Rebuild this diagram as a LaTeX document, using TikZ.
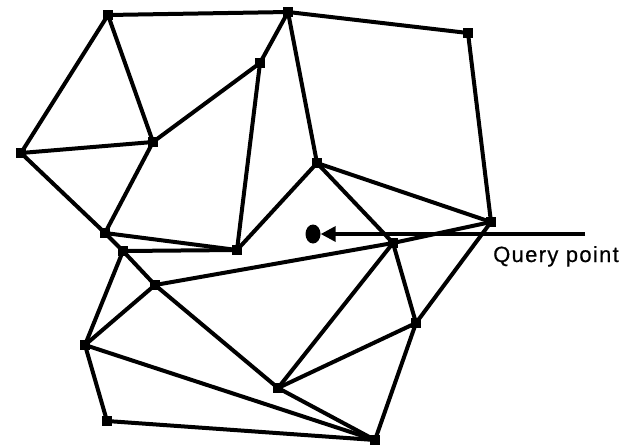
\documentclass[tikz,border=0pt]{standalone}
\usepackage{fontspec}
\newfontfamily\qfont[LetterSpace=6,FakeBold=0.6]{Liberation Sans}
\usetikzlibrary{shapes.geometric,arrows.meta}
\begin{document}
\begin{tikzpicture}[x=1pt,y=-1pt,
  vtx/.style={rectangle,fill=black,minimum size=10pt,inner sep=0pt},
  edge/.style={line width=4pt,line join=round},
  qdot/.style={ellipse,fill=black,minimum width=15pt,minimum height=19pt,inner sep=0pt},
  qarrow/.style={line width=3.4pt,-{Triangle[length=15pt,width=15pt]}},
  qlabel/.style={font=\qfont\fontsize{22}{26}\selectfont,anchor=base west,inner sep=0pt}]
\useasboundingbox (0,0) rectangle (626,445);
\node[vtx] (A) at (108,15) {};
\node[vtx] (B) at (288,12) {};
\node[vtx] (C) at (468,33) {};
\node[vtx] (D) at (260,63) {};
\node[vtx] (E) at (153,142) {};
\node[vtx] (F) at (21,153) {};
\node[vtx] (G) at (317,163) {};
\node[vtx] (H) at (105,233) {};
\node[vtx] (I) at (123,251) {};
\node[vtx] (J) at (237,250) {};
\node[vtx] (K) at (491,222) {};
\node[vtx] (L) at (393,243) {};
\node[vtx] (M) at (155,285) {};
\node[vtx] (N) at (416,323) {};
\node[vtx] (O) at (85,345) {};
\node[vtx] (P) at (278,388) {};
\node[vtx] (Q) at (107,421) {};
\node[vtx] (R) at (375,440) {};
\foreach \a/\b in {A/B,B/C,C/K,A/F,A/E,F/E,F/H,E/H,E/D,D/B,D/J,B/G,G/J,G/K,G/L,
  H/J,H/I,I/J,I/M,I/O,M/O,M/L,L/K,M/P,O/R,O/Q,Q/R,P/R,L/P,P/N,L/N,N/R,K/N}
  \draw[edge] (\a.center) -- (\b.center);
\node[qdot] (qp) at (313,234) {};
\coordinate (qend) at (585,234);
\draw[qarrow] (qend) -- (qp);
\node[qlabel] (ql) at (493,262) {Query point};
\end{tikzpicture}
\end{document}
